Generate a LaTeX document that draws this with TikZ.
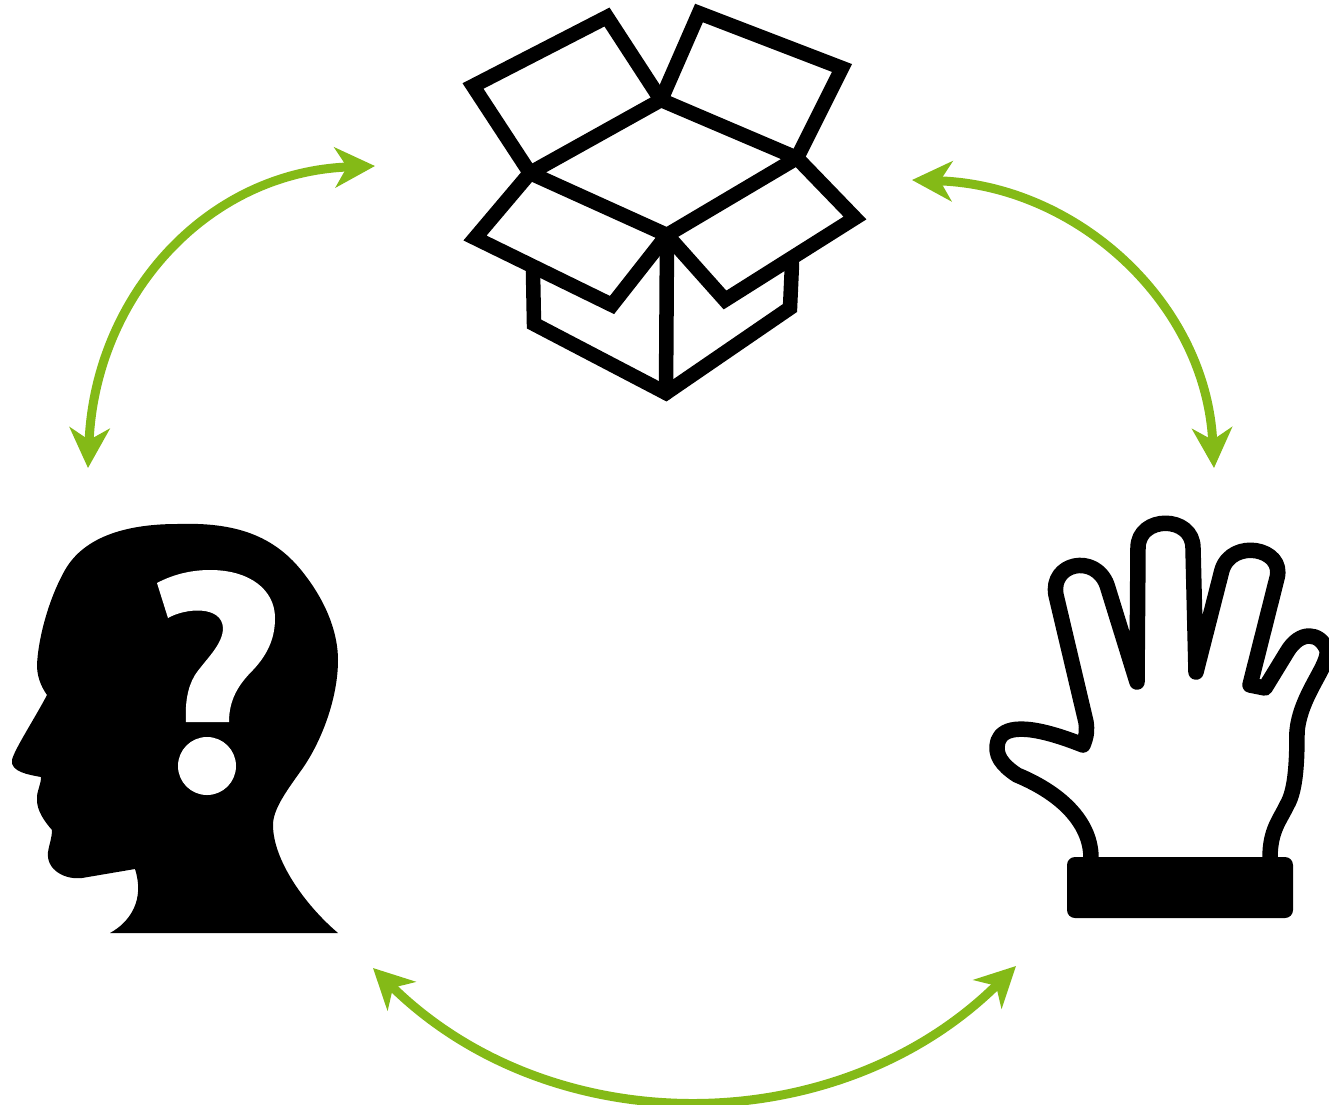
\documentclass[tikz,border=0pt]{standalone}
\usepackage{tikz}
\usetikzlibrary{arrows.meta}
\usepackage{xcolor}
\definecolor{cycgreen}{HTML}{84BA17}

\begin{document}
\begin{tikzpicture}[x=0.01cm,y=-0.01cm,>={Stealth[length=0.4cm,width=0.4cm,inset=0.12cm]},
  cycle/.style={<->,draw=cycgreen,line width=0.09cm},
  boxline/.style={draw=black,line width=0.145cm,line cap=round,miter limit=10},
  handline/.style={draw=black,line width=0.155cm,line join=round,line cap=round}]
\useasboundingbox (0,0) rectangle (1329,1105);
% head
\fill[black] (110,933) .. controls (130,922) and (145,900) .. (135,869) -- (82,878)
  .. controls (65,880) and (46,870) .. (48,852) .. controls (49,845) and (52,838) .. (52,830)
  .. controls (45,822) and (36,810) .. (37,798) .. controls (37,790) and (41,785) .. (41,777)
  .. controls (30,775) and (10,772) .. (12,760) .. controls (14,750) and (35,718) .. (47,695)
  .. controls (40,685) and (37,675) .. (37,665) .. controls (38,640) and (48,600) .. (65,570)
  .. controls (85,535) and (130,524) .. (177,524) .. controls (235,522) and (275,535) .. (305,575)
  .. controls (328,605) and (338,635) .. (338,660) .. controls (338,700) and (320,745) .. (300,772)
  .. controls (285,793) and (273,810) .. (273,825) .. controls (273,860) and (305,905) .. (338,933) -- cycle;
\fill[white] (157,583) -- (168,618) .. controls (185,608) and (222,605) .. (223,628)
  .. controls (223,645) and (205,660) .. (195,675) .. controls (187,688) and (185,705) .. (186,722)
  -- (229,722) .. controls (229,700) and (238,685) .. (253,670) .. controls (270,652) and (275,635) .. (275,618)
  .. controls (275,590) and (250,570) .. (210,570) .. controls (190,570) and (172,575) .. (157,583) -- cycle;
\fill[white] (207,766) circle (29);
% box
\draw[boxline] (530,173) -- (473,86) -- (607,17) -- (661,100);
\draw[boxline] (661,100) -- (699,13) -- (842,68) -- (797,158);
\draw[boxline,line join=round] (530,173) -- (661,100) -- (797,158) -- (667,235) -- cycle;
\draw[boxline] (530,173) -- (475,238) -- (612,305) -- (667,235);
\draw[boxline] (797,158) -- (855,218) -- (725,300) -- (667,235);
\draw[boxline] (533,272) -- (534,324) -- (666,393) -- (790,308) -- (792,264);
\draw[boxline] (667,237) -- (666,393);
% hand
\draw[handline] (1091,858) .. controls (1091,825) and (1065,795) .. (1017,775)
  .. controls (1002,765) and (994,755) .. (998,741) .. controls (1003,727) and (1025,722) .. (1083,745)
  .. controls (1087,735) and (1087,730) .. (1086,722) -- (1056,595)
  .. controls (1050,563) and (1095,553) .. (1107,585) -- (1137,682) -- (1138,548)
  .. controls (1138,515) and (1193,515) .. (1193,548) -- (1196,672) -- (1222,570)
  .. controls (1232,538) and (1285,548) .. (1277,578) -- (1250,685) -- (1265,688) -- (1287,652)
  .. controls (1300,630) and (1320,632) .. (1327,650) .. controls (1330,665) and (1300,695) .. (1297,732)
  .. controls (1297,760) and (1296,790) .. (1287,805) .. controls (1280,820) and (1270,830) .. (1270,858);
\fill[black,rounded corners=0.08cm] (1067,857) rectangle (1293,918);
% arrows
\coordinate (headtop) at (88,468);
\coordinate (boxleft) at (375,166);
\coordinate (boxright) at (912,180);
\coordinate (handtop) at (1214,468);
\coordinate (headbottom) at (373,968);
\coordinate (handbottom) at (1016,966);
\draw[cycle] (headtop) .. controls (95,298) and (205,172) .. (boxleft);
\draw[cycle] (boxright) .. controls (1077,185) and (1206,303) .. (handtop);
\draw[cycle] (headbottom) .. controls (552,1144) and (838,1142) .. (handbottom);
\end{tikzpicture}
\end{document}
